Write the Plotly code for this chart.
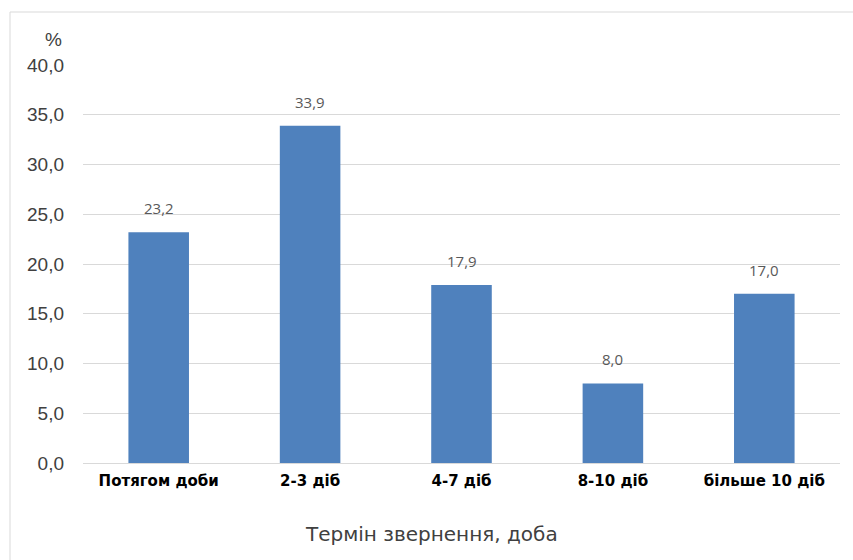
import plotly.graph_objects as go

categories = ["Потягом доби", "2-3 діб", "4-7 діб", "8-10 діб", "більше 10 діб"]
values = [23.2, 33.9, 17.9, 8.0, 17.0]
y_ticks = [0, 5, 10, 15, 20, 25, 30, 35, 40]

W, H = 853, 560
L, R, T, B = 83, 13, 65, 97
pw, ph = W - L - R, H - T - B


def px_x(x):
    return (x - L) / pw


def px_y(y):
    return (H - B - y) / ph


fig = go.Figure(
    go.Bar(
        x=categories,
        y=values,
        marker=dict(color="#4f81bd", line=dict(width=0)),
        hoverinfo="skip",
    )
)

# value labels above each bar
value_labels = [
    dict(
        x=c,
        y=v,
        xref="x",
        yref="y",
        text=f"{v:.1f}".replace(".", ","),
        showarrow=False,
        yanchor="bottom",
        yshift=12,
        font=dict(family="Open Sans, DejaVu Sans", size=15, color="#595959"),
    )
    for c, v in zip(categories, values)
]

fig.update_layout(
    width=W,
    height=H,
    margin=dict(l=L, r=R, t=T, b=B),
    paper_bgcolor="white",
    plot_bgcolor="white",
    separators=", ",
    bargap=0.6,
    showlegend=False,
    xaxis=dict(
        tickfont=dict(family="DejaVu Sans", size=15, color="#000000"),
        tickprefix="<b>",
        ticksuffix="</b>",
        showgrid=False,
        showline=True,
        linecolor="#d9d9d9",
        linewidth=1,
        ticks="",
        ticklabelstandoff=4,
    ),
    yaxis=dict(
        range=[0, 40],
        tickvals=y_ticks,
        tickformat=".1f",
        tickfont=dict(family="Liberation Sans, Arial", size=19, color="#404040"),
        showgrid=True,
        gridcolor="#d9d9d9",
        gridwidth=1,
        zeroline=False,
        ticks="",
        ticklabelstandoff=18,
    ),
    shapes=[
        dict(
            type="rect",
            xref="paper",
            yref="paper",
            x0=px_x(10),
            x1=px_x(W + 10),
            y0=px_y(H + 10),
            y1=px_y(12),
            line=dict(color="#d9d9d9", width=1),
            fillcolor="rgba(0,0,0,0)",
            layer="below",
        )
    ],
    annotations=value_labels
    + [
        dict(
            text="%",
            xref="paper",
            yref="paper",
            x=px_x(53),
            y=px_y(39),
            xanchor="center",
            yanchor="middle",
            showarrow=False,
            font=dict(family="Liberation Sans, Arial", size=19, color="#404040"),
        ),
        dict(
            text="Термін звернення, доба",
            xref="paper",
            yref="paper",
            x=px_x(431),
            y=px_y(534),
            xanchor="center",
            yanchor="middle",
            showarrow=False,
            font=dict(family="DejaVu Sans", size=20, color="#404040"),
        ),
    ],
)

fig.write_html("out.html")
